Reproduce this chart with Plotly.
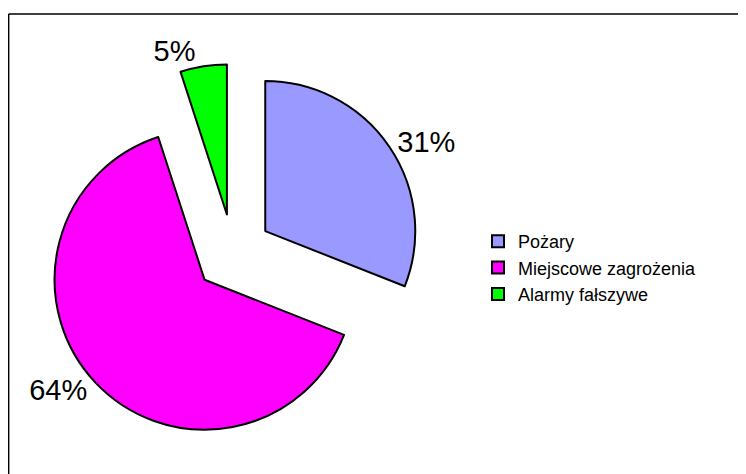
import plotly.graph_objects as go

labels = ["Pożary", "Miejscowe zagrożenia", "Alarmy fałszywe"]
values = [31, 64, 5]
colors = ["#9999FF", "#FF00FF", "#00FF00"]
pulls = [0.26, 0.26, 0.26]

W, H = 746, 474

fig = go.Figure(go.Pie(
    labels=labels,
    values=values,
    sort=False,
    direction="clockwise",
    rotation=0,
    pull=pulls,
    marker=dict(colors=colors, line=dict(color="black", width=2)),
    textinfo="percent",
    textposition="outside",
    texttemplate="%{percent:.0%}",
    outsidetextfont=dict(family="Arial, Liberation Sans, sans-serif", size=29, color="black"),
    domain=dict(x=[36 / W, 414 / W], y=[1 - 434 / H, 1 - 56 / H]),
    automargin=False,
    hoverinfo="label+percent",
))

fig.update_layout(
    width=W, height=H, autosize=False,
    margin=dict(l=0, r=0, t=0, b=0, pad=0, autoexpand=False),
    paper_bgcolor="white",
    font=dict(family="Arial, Liberation Sans, sans-serif", color="black"),
    showlegend=True,
    legend=dict(
        x=470 / W, y=1 - 260 / H, xanchor="left", yanchor="middle",
        font=dict(size=18, color="black"),
        bgcolor="rgba(0,0,0,0)",
    ),
    shapes=[
        dict(type="line", xref="paper", yref="paper",
             x0=0.7 / W, y0=-0.05, x1=0.7 / W, y1=1 - 6 / H,
             line=dict(color="black", width=1.4)),
        dict(type="line", xref="paper", yref="paper",
             x0=0.7 / W, y0=1 - 6 / H, x1=1.05, y1=1 - 6 / H,
             line=dict(color="black", width=1.4)),
    ],
)

fig.write_html("out.html")
